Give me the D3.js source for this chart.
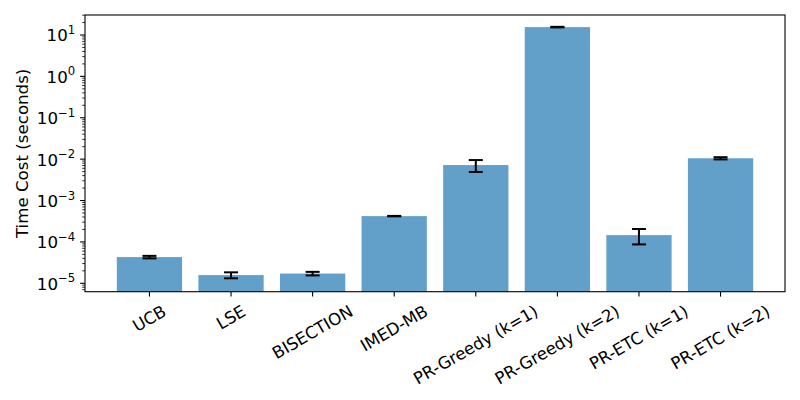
<!DOCTYPE html>
<html>
<head>
<meta charset="utf-8">
<script src="https://cdn.jsdelivr.net/npm/d3@7"></script>
<style>
  html, body { margin: 0; padding: 0; background: #fff; }
  svg { display: block; font-family: "DejaVu Sans", sans-serif; }
</style>
</head>
<body>
<svg id="chart" width="800" height="400"></svg>
<script>
// ---- data ----
const categories = ["UCB", "LSE", "BISECTION", "IMED-MB", "PR-Greedy (k=1)", "PR-Greedy (k=2)", "PR-ETC (k=1)", "PR-ETC (k=2)"];
const meanTimes = [4.3e-5, 1.58e-5, 1.72e-5, 4.2e-4, 7.2e-3, 15.5, 1.46e-4, 1.05e-2];
const stdTimes  = [0.3e-5, 0.26e-5, 0.17e-5, 0.05e-4, 2.3e-3, 0.25, 0.59e-4, 0.065e-2];
const yTickExps = [-5, -4, -3, -2, -1, 0, 1];
const yLabel = "Time Cost (seconds)";

// ---- layout ----
const svg = d3.select("#chart");
const L = 85, R = 785, T = 15, B = 291.7;
const fs = 16.67;

const x = d3.scaleBand().domain(categories).range([L, R]).paddingInner(0.2).paddingOuter(0.39);
const y = d3.scaleLog().domain([Math.pow(10, -5.203), Math.pow(10, 1.483)]).range([B, T]);

// bars
svg.append("g").selectAll("rect").data(categories).join("rect")
  .attr("x", d => x(d))
  .attr("width", x.bandwidth())
  .attr("y", (d, i) => y(meanTimes[i]))
  .attr("height", (d, i) => B - y(meanTimes[i]))
  .attr("fill", "#62a0ca");

// error bars
const eg = svg.append("g").attr("stroke", "#000").attr("stroke-width", 2);
categories.forEach((c, i) => {
  const cx = x(c) + x.bandwidth() / 2;
  const yt = y(meanTimes[i] + stdTimes[i]);
  const yb = y(meanTimes[i] - stdTimes[i]);
  eg.append("line").attr("x1", cx).attr("x2", cx).attr("y1", yt).attr("y2", yb);
  eg.append("line").attr("x1", cx - 7).attr("x2", cx + 7).attr("y1", yt).attr("y2", yt);
  eg.append("line").attr("x1", cx - 7).attr("x2", cx + 7).attr("y1", yb).attr("y2", yb);
});

// y minor ticks
const minor = [];
for (let e = -6; e <= 1; e++) for (let m = 2; m <= 9; m++) {
  const v = m * Math.pow(10, e);
  if (v >= y.domain()[0] && v <= y.domain()[1]) minor.push(v);
}
svg.append("g").selectAll("line").data(minor).join("line")
  .attr("x1", L).attr("x2", L - 2.8)
  .attr("y1", d => y(d)).attr("y2", d => y(d))
  .attr("stroke", "#000").attr("stroke-width", 0.8);

// y major ticks + labels
const yg = svg.append("g");
yTickExps.forEach(e => {
  const yy = y(Math.pow(10, e));
  yg.append("line").attr("x1", L).attr("x2", L - 4.9).attr("y1", yy).attr("y2", yy)
    .attr("stroke", "#000").attr("stroke-width", 1.1);
  const t = yg.append("text").attr("x", L - 9.8).attr("y", yy + 6.5)
    .attr("text-anchor", "end").attr("font-size", fs).attr("fill", "#000");
  t.append("tspan").text("10");
  t.append("tspan").attr("font-size", fs * 0.7).attr("dy", -7.5)
    .text(e < 0 ? "\u2212" + Math.abs(e) : String(e));
});

// x ticks + rotated labels
const xg = svg.append("g");
categories.forEach(c => {
  const cx = x(c) + x.bandwidth() / 2;
  xg.append("line").attr("x1", cx).attr("x2", cx).attr("y1", B).attr("y2", B + 4.9)
    .attr("stroke", "#000").attr("stroke-width", 1.1);
  const t = xg.append("text").attr("font-size", fs).attr("fill", "#000")
    .attr("text-anchor", "middle").attr("dominant-baseline", "central").text(c);
  const w = t.node().getComputedTextLength();
  const h = fs * 1.17;
  const a = Math.PI / 6;
  const bh = w * Math.sin(a) + h * Math.cos(a);
  const cy = B + 4.9 + 4.9 + bh / 2;
  t.attr("transform", `translate(${cx},${cy}) rotate(-30)`);
});

// frame
svg.append("rect").attr("x", L).attr("y", T).attr("width", R - L).attr("height", B - T)
  .attr("fill", "none").attr("stroke", "#000").attr("stroke-width", 1.1);

// y label
svg.append("text").attr("transform", `translate(22,${(T + B) / 2}) rotate(-90)`)
  .attr("text-anchor", "middle").attr("dominant-baseline", "central")
  .attr("font-size", fs).attr("fill", "#000").text(yLabel);
</script>
</body>
</html>
